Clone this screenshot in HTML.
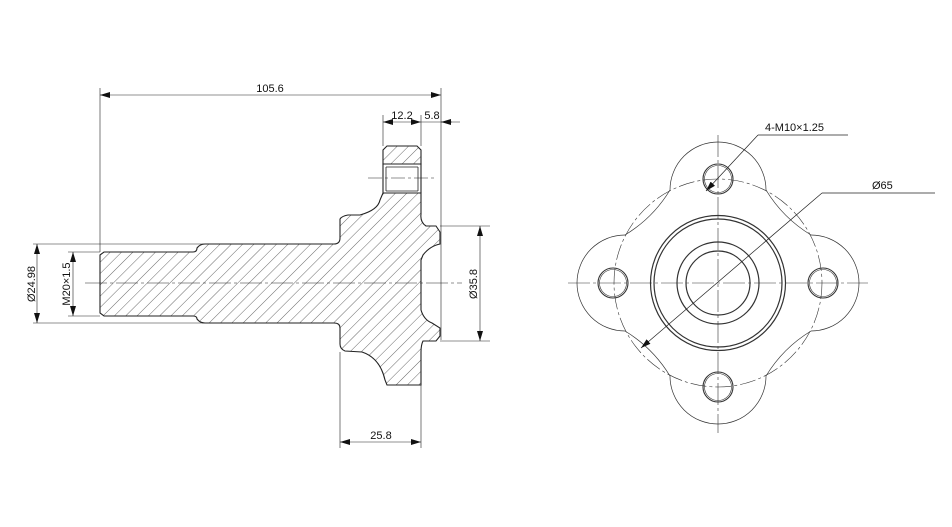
<!DOCTYPE html>
<html><head><style>body{margin:0;background:#fff}svg{display:block}text{font-family:"Liberation Sans",sans-serif;font-size:11px;fill:#111}</style></head><body>
<svg width="952" height="527" viewBox="0 0 952 527" xmlns="http://www.w3.org/2000/svg">
<defs>
<pattern id="h" patternUnits="userSpaceOnUse" width="8" height="8" patternTransform="rotate(45)">
<line x1="0" y1="0" x2="0" y2="8" stroke="#444" stroke-width="0.8"/></pattern>
<marker id="a" markerWidth="10" markerHeight="6" refX="10" refY="3" orient="auto-start-reverse" markerUnits="userSpaceOnUse"><path d="M0,0 L10,3 L0,6z" fill="#111"/></marker>
</defs>
<g fill="none" stroke="#222" stroke-width="0.8">
<path d="M100,255 L104,252 L193,252 Q197,252 197,248 Q200,244 205,244 L334,244 Q340,244 340,238 L340,219 Q342,216 348,215 L360,215 Q378,210 380,200 L383,193 L421,193 L421,214 Q420,222 426,226 L436,226 L440,232 L440,244 Q430,246 423,255 L421,260 L421,310 Q424,320 432,323 L440,328 L440,336 L436,341 L423,341 Q421,345 421,352 L421,385 L387,385 L385,380 Q380,358 362,352 L345,351 Q340,349 340,344 L340,328 Q340,323 334,323 L205,323 Q200,323 197,319 Q197,316 193,316 L104,316 L100,313 Z" fill="url(#h)" stroke-width="1.1"/>
<path d="M383,193 L383,164 L421,164 L421,193" stroke-width="1.1"/>
<path d="M383,164 L383,150 L387,146 L417,146 L421,150 L421,164 Z" fill="url(#h)" stroke-width="1.1"/>
<line x1="386" y1="167" x2="418" y2="167"/><line x1="386" y1="191" x2="418" y2="191"/>
<line x1="386" y1="167" x2="386" y2="191"/><line x1="418" y1="167" x2="418" y2="191"/>
<line x1="85" y1="283" x2="462" y2="283" stroke-dasharray="22,3,3,3" stroke-width="0.6"/>
<line x1="368" y1="178" x2="434" y2="178" stroke-dasharray="14,3,3,3" stroke-width="0.6"/>
<line x1="100" y1="88" x2="100" y2="252" stroke-width="0.6"/>
<line x1="441" y1="88" x2="441" y2="340" stroke-width="0.6"/>
<line x1="100" y1="95" x2="441" y2="95" marker-start="url(#a)" marker-end="url(#a)" stroke-width="0.6"/>
<line x1="383" y1="115" x2="383" y2="146" stroke-width="0.6"/>
<line x1="421" y1="115" x2="421" y2="146" stroke-width="0.6"/>
<line x1="383" y1="122" x2="421" y2="122" marker-start="url(#a)" marker-end="url(#a)" stroke-width="0.6"/>
<line x1="421" y1="122" x2="460" y2="122" stroke-width="0.6"/>
<line x1="441" y1="122" x2="452" y2="122" marker-start="url(#a)" stroke-width="0.6"/>
<line x1="33" y1="244" x2="205" y2="244" stroke-width="0.6"/>
<line x1="33" y1="323" x2="205" y2="323" stroke-width="0.6"/>
<line x1="37" y1="244" x2="37" y2="323" marker-start="url(#a)" marker-end="url(#a)" stroke-width="0.6"/>
<line x1="68" y1="252" x2="100" y2="252" stroke-width="0.6"/>
<line x1="68" y1="316" x2="100" y2="316" stroke-width="0.6"/>
<line x1="73" y1="252" x2="73" y2="316" marker-start="url(#a)" marker-end="url(#a)" stroke-width="0.6"/>
<line x1="440" y1="226" x2="490" y2="226" stroke-width="0.6"/>
<line x1="440" y1="341" x2="490" y2="341" stroke-width="0.6"/>
<line x1="480" y1="226" x2="480" y2="341" marker-start="url(#a)" marker-end="url(#a)" stroke-width="0.6"/>
<line x1="340" y1="352" x2="340" y2="448" stroke-width="0.6"/>
<line x1="421" y1="385" x2="421" y2="448" stroke-width="0.6"/>
<line x1="340" y1="442" x2="421" y2="442" marker-start="url(#a)" marker-end="url(#a)" stroke-width="0.6"/>
</g>
<text x="270" y="92" text-anchor="middle">105.6</text>
<text x="402" y="119" text-anchor="middle">12.2</text>
<text x="432" y="119" text-anchor="middle">5.8</text>
<text x="381" y="439" text-anchor="middle">25.8</text>
<text transform="translate(35,284) rotate(-90)" text-anchor="middle">Ø24.98</text>
<text transform="translate(70,284) rotate(-90)" text-anchor="middle">M20×1.5</text>
<text transform="translate(477,284) rotate(-90)" text-anchor="middle">Ø35.8</text>
<g fill="none" stroke="#333" stroke-width="0.8" transform="translate(718,283)">
<path d="M-48,-93 A48,48 0 0 1 48,-93 Q65,-65 93,-48 A48,48 0 0 1 93,48 Q65,65 48,93 A48,48 0 0 1 -48,93 Q-65,65 -93,48 A48,48 0 0 1 -93,-48 Q-65,-65 -48,-93 Z" stroke-width="0.7"/>
<circle r="104" stroke-dasharray="16,3,3,3" stroke-width="0.6"/>
<circle r="67.5" stroke-width="1.2"/><circle r="64" stroke-width="1.2"/>
<circle r="41" stroke-width="1.2"/><circle r="32" stroke-width="1.2"/>
<g stroke-width="1.1">
<circle cx="0" cy="-104" r="15"/><circle cx="0" cy="-104" r="13.5" stroke-width="0.6"/>
<circle cx="0" cy="104" r="15"/><circle cx="0" cy="104" r="13.5" stroke-width="0.6"/>
<circle cx="-105" cy="0" r="15"/><circle cx="-105" cy="0" r="13.5" stroke-width="0.6"/>
<circle cx="105" cy="0" r="15"/><circle cx="105" cy="0" r="13.5" stroke-width="0.6"/>
</g>
<line x1="-150" y1="0" x2="150" y2="0" stroke-dasharray="22,3,3,3" stroke-width="0.6"/>
<line x1="0" y1="-148" x2="0" y2="150" stroke-dasharray="22,3,3,3" stroke-width="0.6"/>
</g>
<g fill="none" stroke="#222" stroke-width="0.7">
<line x1="706" y1="191" x2="758" y2="135" marker-start="url(#a)"/>
<line x1="758" y1="135" x2="848" y2="135"/>
<line x1="641" y1="348" x2="822" y2="193" marker-start="url(#a)"/>
<line x1="822" y1="193" x2="935" y2="193"/>
</g>
<text x="765" y="131">4-M10×1.25</text>
<text x="872" y="189">Ø65</text>
</svg>
</body></html>
